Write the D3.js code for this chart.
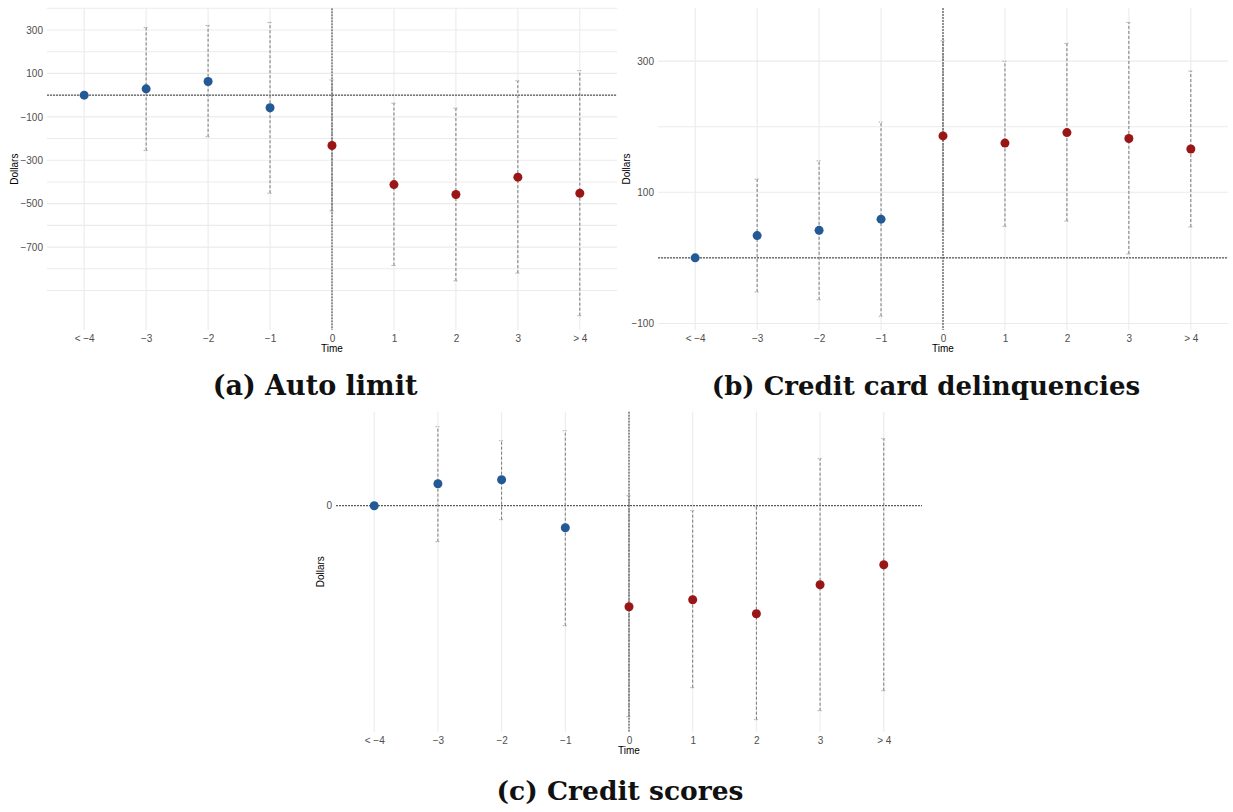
<!DOCTYPE html>
<html><head><meta charset="utf-8">
<script src="https://cdn.jsdelivr.net/npm/d3@7"></script>
<style>body{margin:0;background:#fff}svg{display:block}</style>
</head><body>
<svg id="c" width="1233" height="812"></svg>
<script>
const categories = ["< \u22124","\u22123","\u22122","\u22121","0","1","2","3","> 4"];

// (a) Auto limit
const autoEst = [0, 29, 63, -58, -232, -412, -458, -378, -452];
const autoLo  = [null, -255, -192, -452, -533, -785, -856, -820, -1016];
const autoHi  = [null, 311, 321, 335, 70, -37, -60, 66, 113];
const autoTicks = [300, 100, -100, -300, -500, -700];
const autoGrid = [400,300,200,100,0,-100,-200,-300,-400,-500,-600,-700,-800,-900];

// (b) Credit card delinquencies
const ccEst = [0, 34, 42, 59, 186, 175, 191, 182, 166];
const ccLo  = [null, -52, -64, -89, 41, 48, 56, 6, 47];
const ccHi  = [null, 120, 148, 207, 331, 300, 327, 359, 285];
const ccTicks = [300, 100, -100];
const ccGrid = [300, 200, 100, 0, -100];

// (c) Credit scores
const csEst = [0, 2.2, 2.6, -2.2, -10.1, -9.4, -10.8, -7.9, -5.9];
const csLo  = [null, -3.6, -1.4, -12.0, -21.1, -18.2, -21.4, -20.5, -18.5];
const csHi  = [null, 7.9, 6.5, 7.5, 1.0, -0.5, -0.1, 4.7, 6.7];
const csTicks = [0];
const csGrid = [];

const captions = ["(a) Auto limit", "(b) Credit card delinquencies", "(c) Credit scores"];

const svg = d3.select("#c");
const BLUE = "#235a96", RED = "#9a1616";

function panel(o){
  const g = svg.append("g");
  const x = d3.scalePoint().domain(categories).range([o.x0, o.x1]).padding(0.6);
  const y = d3.scaleLinear().domain(o.yDomain).range([o.y1, o.y0]);
  g.selectAll(".vg").data(categories).enter().append("line")
    .attr("x1", d=>x(d)).attr("x2", d=>x(d)).attr("y1", o.y0).attr("y2", o.y1)
    .attr("stroke", "#ebebeb").attr("stroke-width", 1.1);
  g.selectAll(".hg").data(o.grid).enter().append("line")
    .attr("x1", o.x0).attr("x2", o.x1).attr("y1", d=>y(d)).attr("y2", d=>y(d))
    .attr("stroke", "#ebebeb").attr("stroke-width", 1.1);
  const ya = d3.axisLeft(y).tickValues(o.ticks).tickSize(0).tickPadding(4)
    .tickFormat(d => d3.format(",")(d).replace("-", "\u2212"));
  const yg = g.append("g").attr("transform", `translate(${o.x0},0)`).call(ya);
  yg.select(".domain").remove();
  yg.selectAll("text").attr("fill", "#4d4d4d").attr("font-size", 10).attr("font-family", "Liberation Sans, Arial, sans-serif");
  const xa = d3.axisBottom(x).tickSize(0).tickPadding(5);
  const xg = g.append("g").attr("transform", `translate(0,${o.y1})`).call(xa);
  xg.select(".domain").remove();
  xg.selectAll("text").attr("fill", "#4d4d4d").attr("font-size", 10).attr("font-family", "Liberation Sans, Arial, sans-serif");
  g.append("text").attr("x", (o.x0+o.x1)/2).attr("y", o.y1 + 22).attr("text-anchor", "middle")
    .attr("font-size", 10).attr("font-family", "Liberation Sans, Arial, sans-serif").text("Time");
  g.append("text").attr("transform", `translate(${o.yTitleX},${(o.y0+o.y1)/2}) rotate(-90)`)
    .attr("text-anchor", "middle").attr("font-size", 10).attr("font-family", "Liberation Sans, Arial, sans-serif").text("Dollars");
  g.append("line").attr("x1", o.x0).attr("x2", o.x1).attr("y1", y(0)).attr("y2", y(0))
    .attr("stroke", "#333").attr("stroke-width", 1).attr("stroke-dasharray", "2,1");
  g.append("line").attr("x1", x("0")).attr("x2", x("0")).attr("y1", o.y0).attr("y2", o.y1)
    .attr("stroke", "#333").attr("stroke-width", 1).attr("stroke-dasharray", "2,1");
  const data = categories.map((c,i)=>({c, est:o.est[i], lo:o.lo[i], hi:o.hi[i], post: i>=4}));
  const eb = data.filter(d=>d.lo!==null);
  const cap = 2.5;
  g.selectAll(".eb").data(eb).enter().append("line")
    .attr("x1", d=>x(d.c)).attr("x2", d=>x(d.c)).attr("y1", d=>y(d.lo)).attr("y2", d=>y(d.hi))
    .attr("stroke", "#777").attr("stroke-width", 1).attr("stroke-dasharray", "3,2");
  ["lo","hi"].forEach(k=>{
    g.selectAll(".cap"+k).data(eb).enter().append("line")
      .attr("x1", d=>x(d.c)-cap).attr("x2", d=>x(d.c)+cap).attr("y1", d=>y(d[k])).attr("y2", d=>y(d[k]))
      .attr("stroke", "#999").attr("stroke-width", 0.8).attr("stroke-dasharray", "1.5,1");
  });
  g.selectAll(".pt").data(data).enter().append("circle")
    .attr("cx", d=>x(d.c)).attr("cy", d=>y(d.est)).attr("r", 4.5)
    .attr("fill", d=>d.post?RED:BLUE);
  g.append("text").attr("x", o.capX).attr("y", o.capY).attr("text-anchor", "middle")
    .attr("font-family", "DejaVu Serif, serif").attr("font-weight", "bold").attr("font-size", o.capSize)
    .attr("fill", "#111").text(o.caption);
}

panel({x0:47, x1:617, y0:8.3, y1:330, yDomain:[-1082, 400], est:autoEst, lo:autoLo, hi:autoHi,
  ticks:autoTicks, grid:autoGrid, yTitleX:18, caption:captions[0], capX:315, capY:395, capSize:27});
panel({x0:658, x1:1228, y0:8, y1:330, yDomain:[-110, 381], est:ccEst, lo:ccLo, hi:ccHi,
  ticks:ccTicks, grid:ccGrid, yTitleX:630, caption:captions[1], capX:926, capY:395, capSize:26});
panel({x0:336, x1:922, y0:411.7, y1:731.7, yDomain:[-22.6, 9.4], est:csEst, lo:csLo, hi:csHi,
  ticks:csTicks, grid:csGrid, yTitleX:324, caption:captions[2], capX:620, capY:800, capSize:26.5});
</script>
</body></html>
